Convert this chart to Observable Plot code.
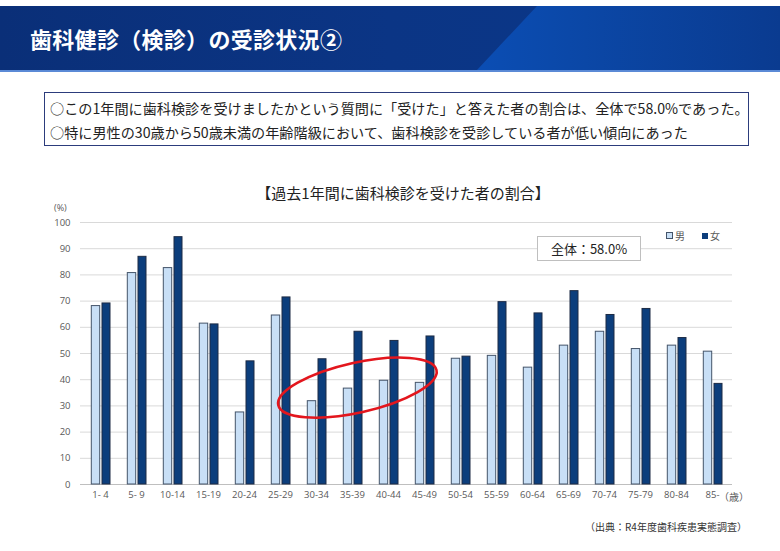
<!DOCTYPE html>
<html><head><meta charset="utf-8">
<script src="https://cdn.jsdelivr.net/npm/d3@7"></script>
<script src="https://cdn.jsdelivr.net/npm/@observablehq/plot@0.6"></script>
<style>
html,body{margin:0;padding:0;background:#fff;}
body{width:780px;height:551px;position:relative;overflow:hidden;font-family:"Noto Sans CJK JP","Noto Sans",sans-serif;}
.banner{position:absolute;left:0;top:6px;width:780px;height:64px;background:linear-gradient(90deg,#0a2f78 0%,#0b3585 50%,#0b3889 100%);}
.banner .hl{position:absolute;left:0;top:0;width:780px;height:64px;background:linear-gradient(90deg,#0b4db3 0%,#0b4db3 62%,#0b47a6 75%,#0a3b90 100%);clip-path:polygon(537px 0,780px 0,780px 64px,477px 64px);}
.banner .line{position:absolute;left:0;bottom:-2px;width:780px;height:2px;background:#5b8ad6;}
.banner .t{position:absolute;left:30px;top:0;line-height:64px;color:#fff;font-weight:bold;font-size:22px;letter-spacing:0.3px;}
.box{position:absolute;left:44px;top:92px;width:703px;height:52px;border:1.5px solid #2c3c7c;box-sizing:content-box;}
.box div{position:absolute;left:5px;font-size:14.15px;color:#222;white-space:nowrap;}
.ctitle{position:absolute;left:0;width:806px;text-align:center;top:182px;font-size:15px;color:#222;}
.pct{position:absolute;left:54px;top:201px;font-size:9px;color:#595959;font-family:"Open Sans",sans-serif;}
.sai{position:absolute;left:719px;top:489px;font-size:10px;color:#595959;}
.legend{position:absolute;top:228px;font-size:10px;color:#595959;}
.legend span.sq{display:inline-block;width:6px;height:6px;margin-right:2px;vertical-align:1px;}
.total{position:absolute;left:537px;top:236px;width:102px;height:23px;border:1px solid #bfbfbf;background:#fff;font-size:13px;color:#222;text-align:center;line-height:23px;}
.src{position:absolute;left:585px;top:519px;font-size:10px;color:#333;}
#chart{position:absolute;left:0;top:200px;}
</style></head>
<body>
<div class="banner"><div class="hl"></div><div class="line"></div><div class="t">歯科健診（検診）の受診状況②</div></div>
<div class="box">
<div style="top:5px">○この1年間に歯科検診を受けましたかという質問に「受けた」と答えた者の割合は、全体で58.0%であった。</div>
<div style="top:29px">○特に男性の30歳から50歳未満の年齢階級において、歯科検診を受診している者が低い傾向にあった</div>
</div>
<div class="ctitle">【過去1年間に歯科検診を受けた者の割合】</div>
<div id="chart"></div>
<div class="pct">(%)</div>
<div class="sai">（歳）</div>
<div class="legend" style="left:666px"><span class="sq" style="background:#c8dff6;border:1px solid #44546a;width:5px;height:5px"></span>男</div>
<div class="legend" style="left:702px"><span class="sq" style="background:#0c3e7c"></span>女</div>
<div class="total">全体：58.0%</div>
<div class="src">（出典：R4年度歯科疾患実態調査）</div>
<script>
const ages = ["1- 4","5- 9","10-14","15-19","20-24","25-29","30-34","35-39","40-44","45-49","50-54","55-59","60-64","65-69","70-74","75-79","80-84","85-"];
const male = [68.1,80.7,82.6,61.4,27.5,64.5,31.8,36.6,39.6,38.8,48.0,49.1,44.6,53.0,58.3,51.7,53.0,50.7];
const female = [69.1,86.9,94.4,61.1,47.0,71.4,47.8,58.3,54.8,56.5,48.8,69.6,65.3,73.8,64.7,67.0,55.9,38.4];
const yTicks = [0,10,20,30,40,50,60,70,80,90,100];

const rows = ages.map((a,i)=>({age:a, male:male[i], female:female[i]}));

const plot = Plot.plot({
  width:780, height:310,
  marginLeft:80, marginRight:48, marginTop:22, marginBottom:26,
  style:{fontFamily:"'Open Sans',sans-serif", fontSize:"9.5px", color:"#595959", background:"transparent"},
  x:{domain:ages, padding:0, label:null, tickSize:0, tickPadding:7},
  y:{domain:[0,100], ticks:yTicks, label:null, tickSize:0, tickPadding:10},
  marks:[
    Plot.ruleY(yTicks, {stroke:"#d9d9d9", strokeWidth:1}),
    Plot.ruleY([0], {stroke:"#bfbfbf", strokeWidth:1}),
    Plot.barY(rows, {x:"age", y:"male", fill:"#c8dff6", stroke:"#44546a", strokeWidth:1, insetLeft:9.3, insetRight:18.3}),
    Plot.barY(rows, {x:"age", y:"female", fill:"#0c3e7c", stroke:"#1d2b45", strokeWidth:1, insetLeft:20, insetRight:8})
  ]
});
document.getElementById("chart").appendChild(plot);

// highlight ellipse annotation positioned through the scales
const xs = plot.scale("x"), ys = plot.scale("y");
const bw = xs.bandwidth != null ? xs.bandwidth : 36.2;
const cx = xs.apply("35-39") + 0.65*bw;
const cy = ys.apply(36.8);
const ns = "http://www.w3.org/2000/svg";
const el = document.createElementNS(ns, "ellipse");
el.setAttribute("cx", cx); el.setAttribute("cy", cy);
el.setAttribute("rx", 81); el.setAttribute("ry", 25);
el.setAttribute("transform", `rotate(-12.5 ${cx} ${cy})`);
el.setAttribute("fill", "none"); el.setAttribute("stroke", "#e3161d"); el.setAttribute("stroke-width", 2.6);
plot.appendChild(el);
</script>
</body></html>
